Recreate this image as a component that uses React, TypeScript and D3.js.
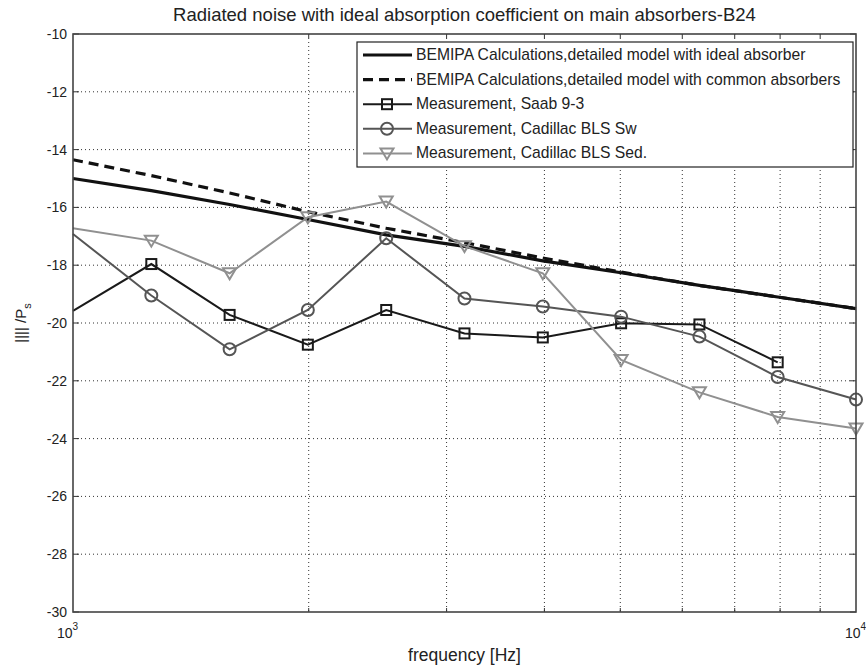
import React from 'react';
import * as d3 from 'd3';

// third-octave band centres (Hz)
const freqs = [1000, 1259, 1585, 1995, 2512, 3162, 3981, 5012, 6310, 7943, 10000];

const idealAbsorber = [-15.0, -15.42, -15.9, -16.42, -16.95, -17.35, -17.85, -18.26, -18.7, -19.1, -19.5];
const commonAbsorbers = [-14.35, -14.9, -15.5, -16.15, -16.72, -17.22, -17.75, -18.24, -18.7, -19.1, -19.5];
const saab = [-19.58, -17.96, -19.72, -20.75, -19.55, -20.36, -20.5, -20.01, -20.05, -21.36];
const cadillacSw = [-16.92, -19.05, -20.91, -19.55, -17.07, -19.15, -19.43, -19.78, -20.47, -21.87, -22.65];
const cadillacSed = [-16.72, -17.15, -18.28, -16.34, -15.8, -17.34, -18.28, -21.28, -22.4, -23.25, -23.65];

const yTicks = [-30, -28, -26, -24, -22, -20, -18, -16, -14, -12, -10];
const xGrid = [2000, 3000, 4000, 5000, 6000, 7000, 8000, 9000];

const legendLabels = [
  'BEMIPA Calculations,detailed model with ideal absorber',
  'BEMIPA Calculations,detailed model with common absorbers',
  'Measurement, Saab 9-3',
  'Measurement, Cadillac BLS Sw',
  'Measurement, Cadillac BLS Sed.',
];

const W = 866;
const H = 671;
const margin = { top: 34, right: 10, bottom: 59, left: 73 };
const font = '"Liberation Sans", Arial, sans-serif';

type Series = { values: number[]; color: string; width: number; dash?: string; marker?: string };

const series: Series[] = [
  { values: idealAbsorber, color: '#111', width: 3.2 },
  { values: commonAbsorbers, color: '#111', width: 3.2, dash: '10,6' },
  { values: saab, color: '#1a1a1a', width: 2, marker: 'square' },
  { values: cadillacSw, color: '#555', width: 2, marker: 'circle' },
  { values: cadillacSed, color: '#909090', width: 2, marker: 'triangle' },
];

const Marker = ({ type, x, y, color }: { type?: string; x: number; y: number; color: string }) => {
  if (type === 'square')
    return <rect x={x - 5} y={y - 5} width={10} height={10} fill="none" stroke={color} strokeWidth={2} />;
  if (type === 'circle') return <circle cx={x} cy={y} r={6} fill="none" stroke={color} strokeWidth={2} />;
  if (type === 'triangle')
    return (
      <path
        d={`M${x - 6.5},${y - 5} L${x + 6.5},${y - 5} L${x},${y + 6} Z`}
        fill="none"
        stroke={color}
        strokeWidth={2}
      />
    );
  return null;
};

export default function App() {
  const x = d3.scaleLog().domain([1000, 10000]).range([margin.left, W - margin.right]);
  const y = d3.scaleLinear().domain([-30, -10]).range([H - margin.bottom, margin.top]);
  const [x0, x1] = x.range();
  const [y0, y1] = y.range();

  const line = d3
    .line<number>()
    .x((_, i) => x(freqs[i]))
    .y((d) => y(d));

  const lg = { x: 357, y: 42, w: 496, h: 125, row: 24.6 };

  return (
    <svg width={W} height={H} style={{ display: 'block', position: 'absolute', left: 0, top: 0 }}>
      <rect width={W} height={H} fill="#fff" />
      <text x={(x0 + x1) / 2} y={21} textAnchor="middle" fontFamily={font} fontSize={18.5} fill="#222">
        Radiated noise with ideal absorption coefficient on main absorbers-B24
      </text>

      {/* grid */}
      {yTicks.slice(1, -1).map((t) => (
        <line key={'gy' + t} x1={x0} x2={x1} y1={y(t)} y2={y(t)} stroke="#333" strokeWidth={1} strokeDasharray="1,3" />
      ))}
      {xGrid.map((f) => (
        <line key={'gx' + f} x1={x(f)} x2={x(f)} y1={y1} y2={y0} stroke="#333" strokeWidth={1} strokeDasharray="1,3" />
      ))}

      {/* ticks */}
      {yTicks.map((t) => (
        <g key={'ty' + t}>
          <line x1={x0} x2={x0 + 6} y1={y(t)} y2={y(t)} stroke="#333" />
          <line x1={x1 - 6} x2={x1} y1={y(t)} y2={y(t)} stroke="#333" />
          <text x={x0 - 6} y={y(t) + 5} textAnchor="end" fontFamily={font} fontSize={14} fill="#222">
            {t}
          </text>
        </g>
      ))}
      {xGrid.map((f) => (
        <g key={'tx' + f}>
          <line x1={x(f)} x2={x(f)} y1={y0} y2={y0 - 4} stroke="#333" />
          <line x1={x(f)} x2={x(f)} y1={y1} y2={y1 + 4} stroke="#333" />
        </g>
      ))}
      {[1000, 10000].map((f, i) => (
        <text key={'xl' + f} x={x(f) + (i === 0 ? -16 : -11)} y={y0 + 26} fontFamily={font} fontSize={14} fill="#222">
          10
          <tspan dy={-8} fontSize={10}>
            {i === 0 ? '3' : '4'}
          </tspan>
        </text>
      ))}
      <text x={(x0 + x1) / 2} y={661} textAnchor="middle" fontFamily={font} fontSize={17.5} fill="#222">
        frequency [Hz]
      </text>
      <text transform={`translate(26,${(y0 + y1) / 2}) rotate(-90)`} textAnchor="middle" fontFamily={font} fontSize={15} fill="#222">
        |||| /P
        <tspan dy={5} fontSize={11}>
          s
        </tspan>
      </text>

      {/* data */}
      {series.map((s, k) => (
        <g key={'s' + k}>
          <path d={line(s.values) || ''} fill="none" stroke={s.color} strokeWidth={s.width} strokeDasharray={s.dash} />
          {s.values.map((v, i) =>
            freqs[i] > 1000 ? <Marker key={i} type={s.marker} x={x(freqs[i])} y={y(v)} color={s.color} /> : null
          )}
        </g>
      ))}

      {/* axes box */}
      <rect x={x0} y={y1} width={x1 - x0} height={y0 - y1} fill="none" stroke="#444" strokeWidth={1.6} />

      {/* legend */}
      <rect x={lg.x} y={lg.y} width={lg.w} height={lg.h} fill="#fff" stroke="#222" strokeWidth={1.2} />
      {series.map((s, k) => {
        const cy = lg.y + 13 + k * lg.row;
        return (
          <g key={'lg' + k}>
            <line x1={lg.x + 6} x2={lg.x + 55} y1={cy} y2={cy} stroke={s.color} strokeWidth={s.width} strokeDasharray={s.dash} />
            <Marker type={s.marker} x={lg.x + 30} y={cy} color={s.color} />
            <text x={lg.x + 59} y={cy + 5} fontFamily={font} fontSize={15.7} fill="#222">
              {legendLabels[k]}
            </text>
          </g>
        );
      })}
    </svg>
  );
}
